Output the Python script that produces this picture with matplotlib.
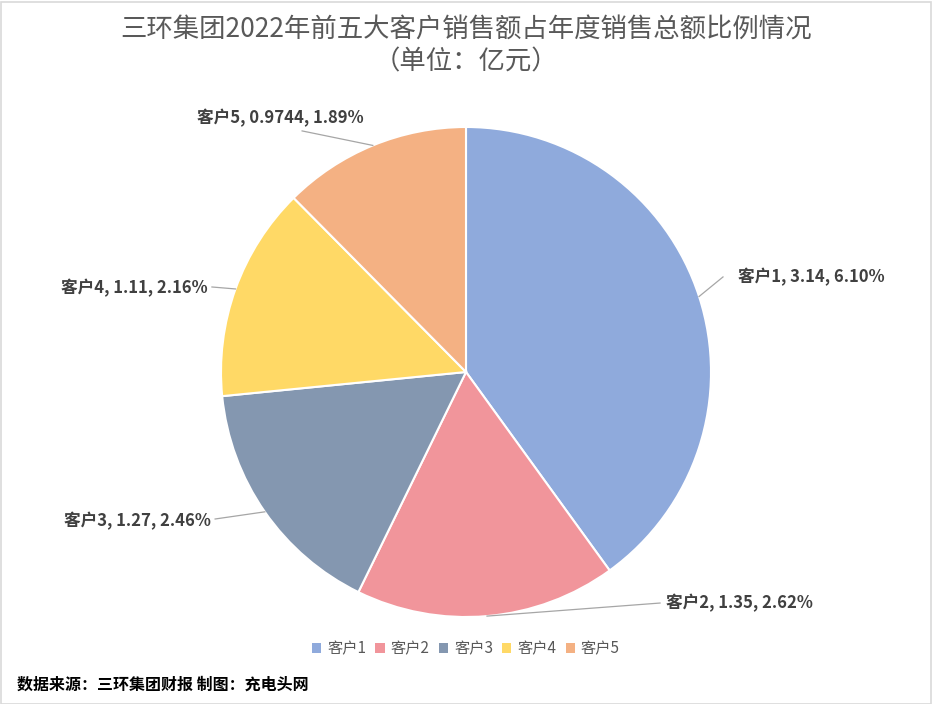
import matplotlib
import numpy as np

matplotlib.use('Agg')
import matplotlib.pyplot as plt
from matplotlib.patches import Rectangle

plt.rcParams['font.family'] = ['Noto Sans CJK SC', 'DejaVu Sans']

customers = ['客户1', '客户2', '客户3', '客户4', '客户5']
sales = [3.14, 1.35, 1.27, 1.11, 0.9744]
value_labels = ['3.14', '1.35', '1.27', '1.11', '0.9744']
percent_labels = ['6.10%', '2.62%', '2.46%', '2.16%', '1.89%']
colors = ['#8faadc', '#f1959b', '#8497b0', '#ffd966', '#f4b183']

title = '三环集团2022年前五大客户销售额占年度销售总额比例情况\n（单位：亿元）'
source = '数据来源：三环集团财报 制图：充电头网'

# label anchor (in pie radius units), alignment and where the leader line ends
label_pos = [(1.11, 0.388, 'left'), (0.816, -0.943, 'left'), (-1.041, -0.608, 'right'),
             (-1.053, 0.343, 'right'), (-0.759, 1.037, 'center')]
line_end = [(1.049, 0.388), (0.792, -0.943), (-1.024, -0.600), (-1.037, 0.347), (-0.669, 0.984)]

W, H = 932, 704
fig = plt.figure(figsize=(W / 100, H / 100), dpi=100)
fig.patches.append(Rectangle((0.5 / W, 0.5 / H), 1 - 2 / W, 1 - 2 / H, transform=fig.transFigure,
                             fill=False, edgecolor='#d9d9d9', linewidth=1.2))

cx, cy, r = 466, 372, 245
ax = fig.add_axes([(cx - r) / W, (H - cy - r) / H, 2 * r / W, 2 * r / H])
wedges, _ = ax.pie(sales, colors=colors, startangle=90, counterclock=False, radius=1,
                   wedgeprops=dict(edgecolor='white', linewidth=1.5))
ax.set_xlim(-1, 1)
ax.set_ylim(-1, 1)
ax.set_aspect('equal')
ax.axis('off')

for i, w in enumerate(wedges):
    ang = np.deg2rad((w.theta1 + w.theta2) / 2)
    ex, ey = np.cos(ang), np.sin(ang)
    lx, ly = line_end[i]
    ax.plot([ex, lx], [ey, ly], color='#a6a6a6', linewidth=0.9, clip_on=False)
    tx, ty, ha = label_pos[i]
    ax.text(tx, ty, f'{customers[i]}, {value_labels[i]}, {percent_labels[i]}', ha=ha, va='center',
            fontsize=12, fontweight='bold', color='#404040', clip_on=False)

fig.text(0.5, 1 - 30 / H, title.split('\n')[0], ha='center', va='center', fontsize=19,
         color='#595959', fontweight='medium')
fig.text(0.5, 1 - 62 / H, title.split('\n')[1], ha='center', va='center', fontsize=19,
         color='#595959', fontweight='medium')

handles = [Rectangle((0, 0), 1, 1, facecolor=c) for c in colors]
fig.legend(handles, customers, loc='center', bbox_to_anchor=(466 / W, 1 - 649 / H), ncol=5,
           frameon=False, fontsize=11, handlelength=0.6, handleheight=0.6, handletextpad=0.4,
           columnspacing=0.6, labelcolor='#595959')

fig.text(17 / W, 1 - 685 / H, source, ha='left', va='center', fontsize=11.5, fontweight='bold',
         color='black')

fig.savefig('out.png', dpi=100)
